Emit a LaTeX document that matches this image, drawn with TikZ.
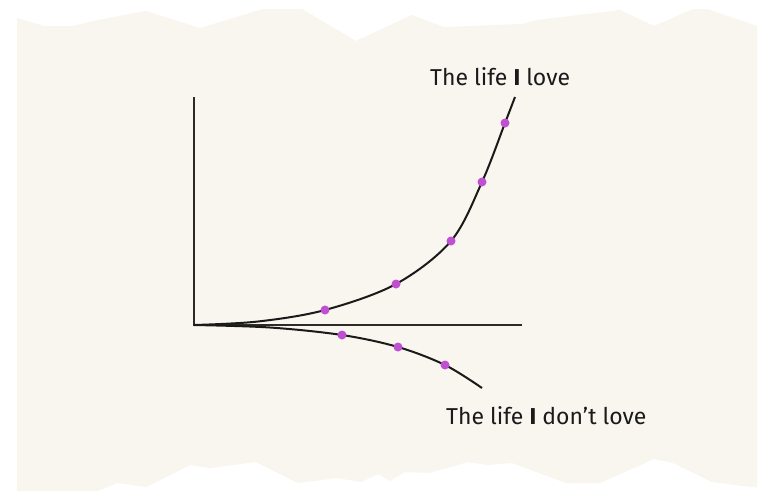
\documentclass[tikz,border=0pt]{standalone}
\usepackage{fontspec}
\setmainfont{Fira Sans}
\definecolor{paper}{HTML}{F9F6F0}
\definecolor{ink}{HTML}{1A1A1A}
\definecolor{axisc}{HTML}{2E2A28}
\definecolor{dotc}{HTML}{C04FD2}
\begin{document}
\begin{tikzpicture}[x=1pt,y=-1pt,
  axisline/.style={draw=axisc,line width=2pt},
  curveline/.style={draw=ink,line width=2pt},
  pdot/.style={circle,fill=dotc,inner sep=0pt,minimum size=9pt},
  lbl/.style={text=ink,font=\fontsize{23}{26}\selectfont,inner sep=0pt}]
\useasboundingbox (0,0) rectangle (760,491);
\fill[white] (0,0) rectangle (760,491);
\fill[paper] (17,18) -- (44,26) -- (73,26) -- (98,20) -- (146,11) -- (200,28) -- (263,9) -- (302,9) -- (356,41) -- (412,15) -- (444,27) -- (522,24) -- (537,20) -- (620,10) -- (654,26) -- (693,9) -- (707,9) -- (757,26)
 -- (757,487) -- (751,487) -- (712,482) -- (673,463) -- (654,459) -- (600,483) -- (566,483) -- (512,463) -- (488,465) -- (468,462) -- (429,473) -- (405,472) -- (390,481) -- (378,474) -- (361,482) -- (337,478) -- (298,483) -- (256,462) -- (210,468) -- (190,465) -- (146,487) -- (117,483) -- (98,491) -- (17,491) -- cycle;
% axes
\coordinate (O) at (194,325);
\coordinate (ytop) at (194,97);
\coordinate (xend) at (522,325);
\draw[axisline] (ytop) -- (O) -- (xend);
% curves
\draw[curveline] plot[smooth,tension=0.55] coordinates {(194,325) (258,321.5) (325,310) (396,284) (451,241) (482,182) (505,123) (515,97)};
\draw[curveline] plot[smooth,tension=0.55] coordinates {(194,325) (270,327.5) (342,335) (398,347) (445,365) (482,388)};
% dots
\node[pdot] (u1) at (325,310) {};
\node[pdot] (u2) at (396,284) {};
\node[pdot] (u3) at (451,241) {};
\node[pdot] (u4) at (482,182) {};
\node[pdot] (u5) at (505,123) {};
\node[pdot] (l1) at (342,335) {};
\node[pdot] (l2) at (398,347) {};
\node[pdot] (l3) at (445,365) {};
% labels
\node[lbl,anchor=west] (love) at (430,77) {The life \textbf{I} love};
\node[lbl,anchor=west] (nolove) at (446,416) {The life \textbf{I} don’t love};
\end{tikzpicture}
\end{document}
